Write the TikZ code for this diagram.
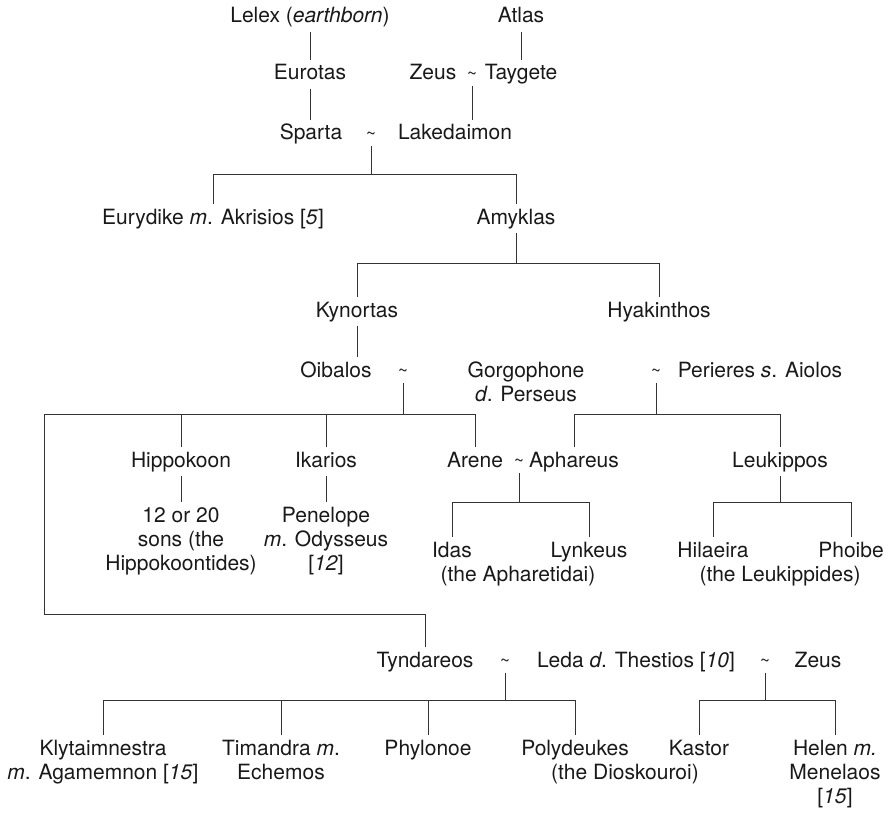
\documentclass[tikz,border=0pt]{standalone}
\usepackage{fontspec}
\setmainfont{TeX Gyre Heros}
% stacked, centred lines whose baseline is the first line's
\newcommand{\mstk}[1]{\begin{tabular}[t]{@{}c@{}}#1\end{tabular}}
% the small marriage tilde
\newcommand{\mtilde}{\raisebox{0.5pt}{\fontsize{17}{17}\selectfont\textasciitilde}}
\begin{document}
\begin{tikzpicture}[x=1pt, y=-1pt,
  font=\fontsize{21}{24}\selectfont,
  every node/.style={text=black!90},
  person/.style={inner xsep=0pt, inner ysep=5pt, text height=15pt, text depth=4pt, anchor=base},
  group/.style={inner xsep=0pt, inner ysep=5pt, text height=15pt, anchor=base},
  union/.style={inner xsep=0pt, inner ysep=6pt, text height=15pt, text depth=0pt, anchor=base},
  line/.style={line width=0.9pt, draw=black!80}]
\useasboundingbox (0,0) rectangle (888,813);

% --- generations ---
\node[person] (lelex) at (310,23) {Lelex (\textit{earthborn})};
\node[person] (atlas) at (521,23) {Atlas};
\node[person] (eurotas) at (310,80) {Eurotas};
\node[person] (zeusA) at (433,80) {Zeus};
\node[union] (tZT) at (472,80) {\mtilde};
\node[person] (taygete) at (521,80) {Taygete};
\node[person] (sparta) at (311,140) {Sparta};
\node[union] (tSL) at (371,140) {\mtilde};
\node[person] (lake) at (455,140) {Lakedaimon};
\node[person] (eury) at (213,224) {Eurydike \textit{m}. Akrisios [\textit{5}]};
\node[person] (amyklas) at (516,224) {Amyklas};
\node[person] (kynortas) at (357,317) {Kynortas};
\node[person] (hyak) at (659,317) {Hyakinthos};
\node[person] (oibalos) at (336,377) {Oibalos};
\node[union] (tOG) at (403,377) {\mtilde};
\node[group] (gorgo) at (526,377) {\mstk{Gorgophone\\\textit{d}. Perseus}};
\node[union] (tGP) at (656,377) {\mtilde};
\node[person] (perieres) at (760,377) {Perieres \textit{s}. Aiolos};
\node[person] (hippokoon) at (181,467) {Hippokoon};
\node[person] (ikarios) at (326,467) {Ikarios};
\node[person] (arene) at (475,467) {Arene};
\node[union] (tAA) at (519,467) {\mtilde};
\node[person] (aphareus) at (574,467) {Aphareus};
\node[person] (leukippos) at (780,467) {Leukippos};
\node[group] (sons) at (181,522) {\mstk{12 or 20\\sons (the\\Hippokoontides)}};
\node[group] (penelope) at (326,522) {\mstk{Penelope\\\textit{m}. Odysseus\\{[}\textit{12}{]}}};
\node[person] (idas) at (452,557) {Idas};
\node[person] (lynkeus) at (589,557) {Lynkeus};
\node[person] (apharetidai) at (518,581) {(the Apharetidai)};
\node[person] (hilaeira) at (713,557) {Hilaeira};
\node[person] (phoibe) at (851,557) {Phoibe};
\node[person] (leukippides) at (780,581) {(the Leukippides)};
\node[person] (tyndareos) at (425,667) {Tyndareos};
\node[union] (tTL) at (505,667) {\mtilde};
\node[person] (leda) at (636,667) {Leda \textit{d}. Thestios [\textit{10}]};
\node[union] (tLZ) at (765,667) {\mtilde};
\node[person] (zeusB) at (818,667) {Zeus};
\node[group] (klyt) at (103,755) {\mstk{Klytaimnestra\\\textit{m}. Agamemnon [\textit{15}]}};
\node[group] (timandra) at (281,755) {\mstk{Timandra \textit{m}.\\Echemos}};
\node[person] (phylonoe) at (428,755) {Phylonoe};
\node[person] (polyd) at (575,755) {Polydeukes};
\node[person] (dioskouroi) at (625,779) {(the Dioskouroi)};
\node[person] (kastor) at (699,755) {Kastor};
\node[group] (helen) at (835,755) {\mstk{Helen \textit{m.}\\Menelaos\\{[}\textit{15}{]}}};

% --- sibling bars ---
\coordinate (barA) at (0,174);
\coordinate (barB) at (0,263);
\coordinate (barC) at (0,414);
\coordinate (lft) at (44,414);
\coordinate (barD) at (0,614);
\coordinate (barE) at (0,502);
\coordinate (barF) at (0,700);

% --- descent lines ---
\draw[line] (lelex.south) -- (lelex.south |- eurotas.north);
\draw[line] (eurotas.south) -- (eurotas.south |- sparta.north);
\draw[line] (atlas.south) -- (atlas.south |- taygete.north);
\draw[line] (tZT.south) -- (tZT.south |- lake.north);

\draw[line] (tSL.south) -- (tSL.south |- barA);
\draw[line] (eury.north) |- (amyklas.north |- barA) -- (amyklas.north);

\draw[line] (amyklas.south) -- (amyklas.south |- barB);
\draw[line] (kynortas.north) |- (hyak.north |- barB) -- (hyak.north);

\draw[line] (kynortas.south) -- (kynortas.south |- oibalos.north);

\draw[line] (tOG.south) -- (tOG.south |- barC);
\draw[line] (arene.north) |- (lft) -- (lft |- barD) -| (tyndareos.north);
\draw[line] (hippokoon.north) -- (hippokoon.north |- barC);
\draw[line] (ikarios.north) -- (ikarios.north |- barC);

\draw[line] (tGP.south) -- (tGP.south |- barC);
\draw[line] (aphareus.north) |- (leukippos.north |- barC) -- (leukippos.north);

\draw[line] (hippokoon.south) -- (hippokoon.south |- sons.north);
\draw[line] (ikarios.south) -- (ikarios.south |- penelope.north);

\draw[line] (tAA.south) -- (tAA.south |- barE);
\draw[line] (idas.north) |- (lynkeus.north |- barE) -- (lynkeus.north);

\draw[line] (leukippos.south) -- (leukippos.south |- barE);
\draw[line] (hilaeira.north) |- (phoibe.north |- barE) -- (phoibe.north);

\draw[line] (tTL.south) -- (tTL.south |- barF);
\draw[line] (klyt.north) |- (polyd.north |- barF) -- (polyd.north);
\draw[line] (timandra.north) -- (timandra.north |- barF);
\draw[line] (phylonoe.north) -- (phylonoe.north |- barF);

\draw[line] (tLZ.south) -- (tLZ.south |- barF);
\draw[line] (kastor.north) |- (helen.north |- barF) -- (helen.north);
\end{tikzpicture}
\end{document}
